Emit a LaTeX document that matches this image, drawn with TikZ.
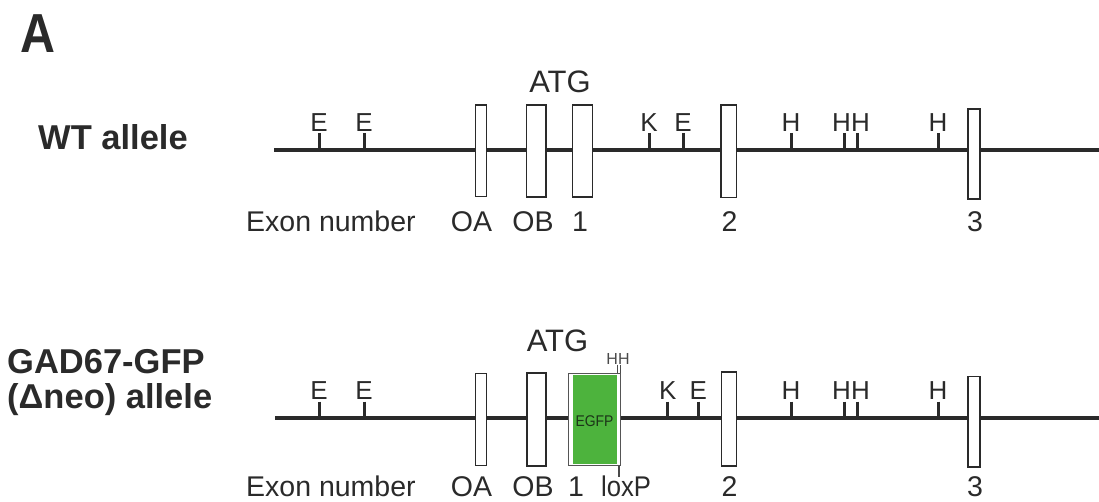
\documentclass[tikz,border=0pt]{standalone}
\usepackage{fontspec}
\setmainfont{Liberation Sans}
\definecolor{ink}{HTML}{2A2A2A}
\definecolor{gfpgreen}{HTML}{4DB33D}
\definecolor{gfptext}{HTML}{1C3518}
\tikzset{
  backbone/.style={draw=ink, line width=4pt},
  site/.style={draw=ink, line width=3pt},
  exon/.style={draw=ink, line width=1.5pt, fill=white},
  sitelbl/.style={anchor=base, inner sep=0pt, text=ink, font=\fontsize{26}{28}\selectfont},
  exonlbl/.style={anchor=base, inner sep=0pt, text=ink, font=\fontsize{28.5}{30}\selectfont},
  atglbl/.style={anchor=base, inner sep=0pt, text=ink, font=\fontsize{31}{33}\selectfont},
  rowlbl/.style={anchor=base west, inner sep=0pt, text=ink, font=\bfseries\fontsize{34.5}{36}\selectfont},
}
\begin{document}
\begin{tikzpicture}[x=1pt, y=-1pt]
\useasboundingbox (0,0) rectangle (1099,502);

% panel letter
\node[anchor=base west, inner sep=0pt, text=ink, font=\bfseries\fontsize{55}{58}\selectfont] (panel) at (20,53) {\scalebox{0.88}[1]{A}};

% ---------------- wild-type allele ----------------
\node[rowlbl] (wtname) at (38,150) {WT allele};
\coordinate (wtL) at (274,150);
\coordinate (wtR) at (1099,150);
\draw[backbone] (wtL) -- (wtR);

% restriction sites
\foreach \x/\s/\n in {319/E/e1, 364/E/e2, 649/K/k1, 683/E/e3, 791/H/h1, 938/H/h4}{
  \draw[site] (\x,133) -- (\x,150);
  \node[sitelbl] (wt\n) at (\x,132) {\s};
}
\draw[site] (844,133) -- (844,150);
\draw[site] (857,133) -- (857,150);
\node[sitelbl] (wthh) at (851,132) {HH};

% exons
\draw[exon] (475.7,105) rectangle (486.7,196.7);
\draw[exon] (526.7,105) rectangle (546,197);
\draw[exon] (572.3,105) rectangle (592.3,197);
\draw[exon] (721,105) rectangle (736.7,197.7);
\draw[exon] (968,109) rectangle (980,199);
\node[atglbl] (wtatg) at (560,93) {ATG};

% exon numbers
\node[exonlbl, anchor=base west] (wtex) at (246,231.7) {Exon number};
\node[exonlbl] (wtoa) at (471.5,231.7) {OA};
\node[exonlbl] (wtob) at (533,231.7) {OB};
\node[exonlbl] (wt1) at (580,231.7) {1};
\node[exonlbl] (wt2) at (729.5,231.7) {2};
\node[exonlbl] (wt3) at (975,231.7) {3};

% ---------------- GAD67-GFP allele ----------------
\node[rowlbl] (gadname) at (7,373) {GAD67-GFP};
\node[rowlbl] (gadname2) at (7,408) {(Δneo) allele};
\coordinate (gdL) at (275,418.3);
\coordinate (gdR) at (1099,418.3);
\draw[backbone] (gdL) -- (gdR);

\foreach \x/\s/\n in {319/E/e1, 364/E/e2, 667.7/K/k1, 698.3/E/e3, 791/H/h1, 938/H/h4}{
  \draw[site] (\x,401.7) -- (\x,418.3);
  \node[sitelbl] (gd\n) at (\x,399.5) {\s};
}
\draw[site] (844,401.7) -- (844,418.3);
\draw[site] (857,401.7) -- (857,418.3);
\node[sitelbl] (gdhh) at (851,399.5) {HH};

\draw[exon] (475.7,373.3) rectangle (486.7,465.7);
\draw[exon] (527,373) rectangle (546,466);
\draw[exon] (721.7,372) rectangle (736.7,466);
\draw[exon] (968,376.7) rectangle (980,467);

% EGFP cassette in exon 1 with loxP
\draw[draw=ink!80, line width=1.3pt, fill=white] (568.3,373.3) rectangle (620.3,465.5);
\fill[gfpgreen] (572.5,375) rectangle (616.5,464);
\node[inner sep=0pt, text=gfptext, font=\fontsize{15.5}{16}\selectfont] (egfp) at (594.5,421) {\scalebox{0.9}[1]{EGFP}};
\draw[ink!85, line width=1pt] (617.3,364.5) -- (617.3,373.3);
\draw[ink!85, line width=1pt] (620.3,364.5) -- (620.3,373.3);
\node[anchor=base, inner sep=0pt, text=ink!85, font=\fontsize{16}{17}\selectfont] (hhsmall) at (618,364) {HH};
\draw[ink!85, line width=1.2pt] (619,465.5) -- (619,477);
\node[atglbl] (gdatg) at (557.5,351.7) {ATG};

\node[exonlbl, anchor=base west] (gdex) at (246,496.7) {Exon number};
\node[exonlbl] (gdoa) at (471.5,496.7) {OA};
\node[exonlbl] (gdob) at (533,496.7) {OB};
\node[exonlbl] (gd1) at (576,496.7) {1};
\node[exonlbl] (gdlox) at (626,496.7) {\scalebox{0.9}[1]{loxP}};
\node[exonlbl] (gd2) at (729.5,496.7) {2};
\node[exonlbl] (gd3) at (975,496.7) {3};
\end{tikzpicture}
\end{document}
